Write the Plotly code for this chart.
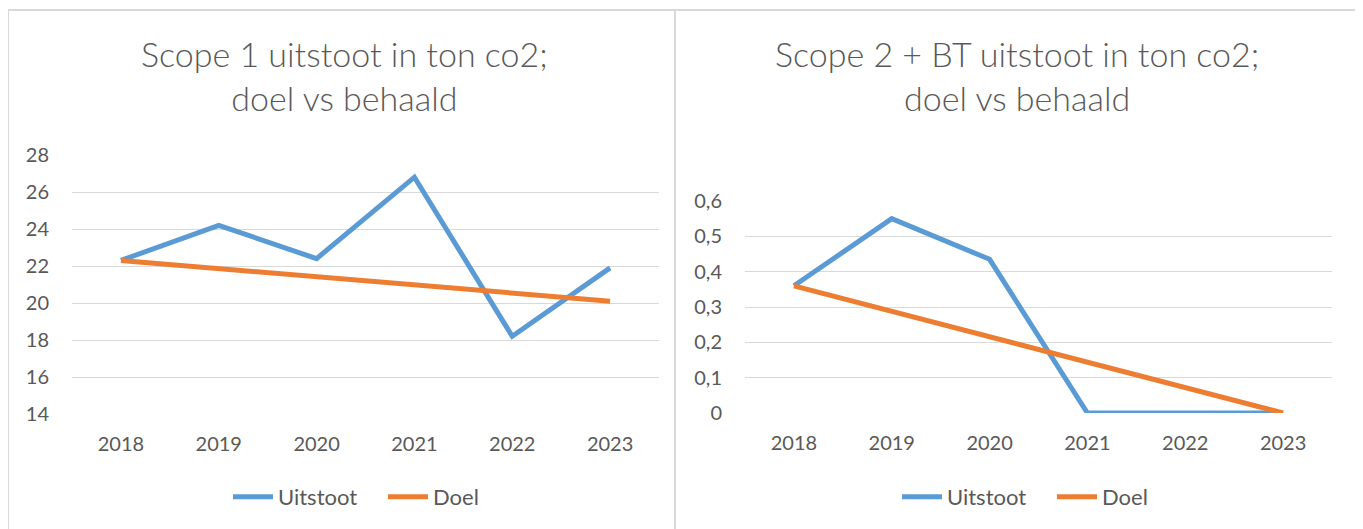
import plotly.graph_objects as go

years = ["2018", "2019", "2020", "2021", "2022", "2023"]
scope1_uitstoot = [22.3, 24.2, 22.4, 26.8, 18.2, 21.9]
scope1_doel = [22.3, 21.86, 21.42, 20.98, 20.54, 20.1]
scope2_uitstoot = [0.36, 0.55, 0.435, 0.0, 0.0, 0.0]
scope2_doel = [0.36, 0.288, 0.216, 0.144, 0.072, 0.0]
title1 = "Scope 1 uitstoot in ton co2;<br>doel vs behaald"
title2 = "Scope 2 + BT uitstoot in ton co2;<br>doel vs behaald"

OFF = 8  # page body margin
W, H = 1363 - OFF, 529 - OFF
BLUE = "#5B9BD5"
ORANGE = "#ED7D31"
GREY = "#595959"
GRID = "#D9D9D9"
FONT = "Lato"

def px(x):
    return (x - OFF) / W

def py(y):
    return 1 - (y - OFF) / H

fig = go.Figure()
fig.add_trace(go.Scatter(x=years, y=scope1_uitstoot, name="Uitstoot", mode="lines",
                         line=dict(color=BLUE, width=5), xaxis="x", yaxis="y", legend="legend"))
fig.add_trace(go.Scatter(x=years, y=scope1_doel, name="Doel", mode="lines",
                         line=dict(color=ORANGE, width=5), xaxis="x", yaxis="y", legend="legend"))
fig.add_trace(go.Scatter(x=years, y=scope2_uitstoot, name="Uitstoot", mode="lines",
                         line=dict(color=BLUE, width=5), xaxis="x2", yaxis="y2", legend="legend2"))
fig.add_trace(go.Scatter(x=years, y=scope2_doel, name="Doel", mode="lines",
                         line=dict(color=ORANGE, width=5), xaxis="x2", yaxis="y2", legend="legend2"))

tickfont = dict(family=FONT, size=20, color=GREY)
xcommon = dict(type="category", range=[-0.5, 5.5], showgrid=False, zeroline=False, showline=False,
               ticks="", tickfont=tickfont, ticklabelstandoff=16, fixedrange=True, automargin=False)
ycommon = dict(showgrid=True, gridcolor=GRID, gridwidth=1, zeroline=False, showline=False,
               ticks="", tickfont=tickfont, ticklabelstandoff=22, fixedrange=True, automargin=False)

legend_common = dict(orientation="h", xanchor="center", yanchor="middle",
                     font=dict(family=FONT, size=22, color=GREY), bgcolor="rgba(0,0,0,0)",
                     itemwidth=40, tracegroupgap=0, entrywidth=100)

fig.update_layout(
    width=W, height=H,
    margin=dict(l=0, r=0, t=0, b=0, autoexpand=False),
    paper_bgcolor="white", plot_bgcolor="white",
    separators=",.",
    xaxis=dict(domain=[px(72), px(659)], anchor="y", **xcommon),
    yaxis=dict(domain=[py(414), py(155)], anchor="x", range=[14, 28], dtick=2, **ycommon),
    xaxis2=dict(domain=[px(745), px(1332)], anchor="y2", **xcommon),
    yaxis2=dict(domain=[py(413), py(201)], anchor="x2", range=[0, 0.6], dtick=0.1, **ycommon),
    legend=dict(x=px(383), y=py(497), **legend_common),
    legend2=dict(x=px(1052), y=py(497), **legend_common),
    shapes=[
        dict(type="rect", xref="paper", yref="paper", x0=px(8), x1=px(675), y0=-0.05, y1=py(10),
             line=dict(color=GRID, width=2), layer="below"),
        dict(type="rect", xref="paper", yref="paper", x0=px(675), x1=px(1359), y0=-0.05, y1=py(10),
             line=dict(color=GRID, width=2), layer="below"),
    ],
    annotations=[
        dict(text=title1, xref="paper", yref="paper", x=px(344), y=py(76), xanchor="center",
             yanchor="middle", showarrow=False, align="center",
             font=dict(family=FONT, size=34, color=GREY, weight=300)),
        dict(text=title2, xref="paper", yref="paper", x=px(1017), y=py(76), xanchor="center",
             yanchor="middle", showarrow=False, align="center",
             font=dict(family=FONT, size=34, color=GREY, weight=300)),
    ],
)

fig.write_html("out.html")
